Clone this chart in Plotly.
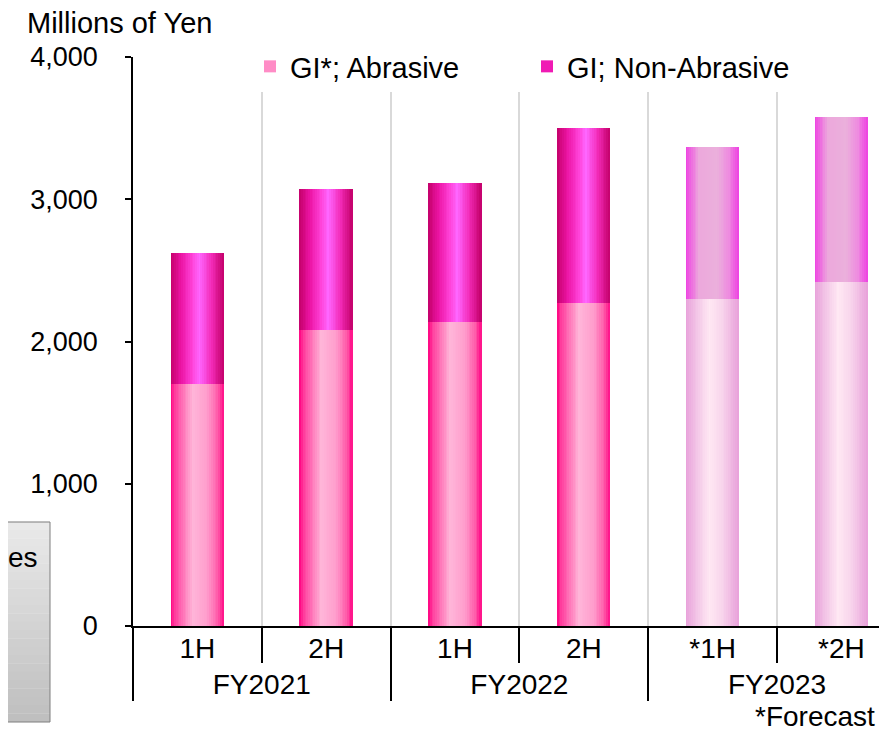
import plotly.graph_objects as go

# ---------------- data ----------------
fiscal_years = ["FY2021", "FY2021", "FY2022", "FY2022", "FY2023", "FY2023"]
halves = ["1H", "2H", "1H", "2H", "*1H", "*2H"]
abrasive = [1700, 2080, 2140, 2270, 2300, 2420]
non_abrasive = [920, 990, 975, 1230, 1065, 1160]
is_forecast = [False, False, False, False, True, True]
y_ticks = [0, 1000, 2000, 3000, 4000]

# ---------------- styling ----------------
OFF = 8                      # default page body margin
PW, PH = 887, 731            # page size
W, H = PW - OFF, PH - OFF    # figure size
# plot area in page pixels
P_L, P_R, P_T, P_B = 133, 887, 57, 626
L, R, T, B = P_L - OFF, PW - P_R, P_T - OFF, PH - P_B
FONT = "Arial, Liberation Sans, sans-serif"

def hex2rgb(h):
    h = h.lstrip("#")
    return tuple(int(h[i:i + 2], 16) for i in (0, 2, 4))

def grad(stops, t):
    for (p0, c0), (p1, c1) in zip(stops[:-1], stops[1:]):
        if p0 <= t <= p1:
            f = (t - p0) / (p1 - p0) if p1 > p0 else 0
            a, b = hex2rgb(c0), hex2rgb(c1)
            return "rgb(%d,%d,%d)" % tuple(round(a[k] + (b[k] - a[k]) * f) for k in range(3))
    return stops[-1][1]

abr_actual = [(0, "#ff0080"), (0.08, "#ff3c9c"), (0.42, "#ffb6d9"), (0.7, "#ff9ccc"), (0.9, "#ff58a8"), (1, "#ff0a86")]
non_actual = [(0, "#c4006a"), (0.2, "#ec14a4"), (0.42, "#ff44da"), (0.55, "#ff66ff"), (0.78, "#f22ab6"), (1, "#c4006a")]
abr_fc = [(0, "#e8a0da"), (0.2, "#f2c4e6"), (0.45, "#ffe8f3"), (0.7, "#f8d4ec"), (1, "#e8a0da")]
non_fc = [(0, "#ee40e2"), (0.25, "#eca8dc"), (0.6, "#ebb0dc"), (0.82, "#ee8ae0"), (1, "#ee40e2")]

N = 30
BW = 0.41
x = [fiscal_years, halves]

fig = go.Figure()
for series, base, st_a, st_f in [(abrasive, [0] * 6, abr_actual, abr_fc),
                                 (non_abrasive, abrasive, non_actual, non_fc)]:
    for i in range(N):
        t = (i + 0.5) / N
        colors = [grad(st_f if fc else st_a, t) for fc in is_forecast]
        fig.add_trace(go.Bar(
            x=x, y=series, base=base,
            offset=-BW / 2 + i * BW / N, width=BW / N * 1.06,
            marker=dict(color=colors, line=dict(width=0)),
            showlegend=False, hoverinfo="skip"))

# legend entries
fig.add_trace(go.Bar(x=x, y=[0] * 6, name="GI*; Abrasive",
                     marker=dict(color="#ff8cc6", line=dict(width=0))))
fig.add_trace(go.Bar(x=x, y=[0] * 6, name="GI; Non-Abrasive",
                     marker=dict(color="#f01ab4", line=dict(width=0))))

# page pixel -> paper coords
def px(xp):
    return (xp - P_L) / (P_R - P_L)

def py(yp):
    return (P_B - yp) / (P_B - P_T)

shapes = []
# gray gradient box at left (cropped element)
nb = 24
y0b, y1b = 522, 722
for k in range(nb):
    ya = y0b + (y1b - y0b) * k / nb
    yb = y0b + (y1b - y0b) * (k + 1) / nb
    g = round(234 - (234 - 190) * (k + 0.5) / nb)
    shapes.append(dict(type="rect", xref="paper", yref="paper",
                       x0=px(-2), x1=px(50), y0=py(yb), y1=py(ya) + 0.0005,
                       fillcolor="rgb(%d,%d,%d)" % (g, g, g), line=dict(width=0), layer="above"))
shapes.append(dict(type="rect", xref="paper", yref="paper",
                   x0=px(-2), x1=px(50), y0=py(y1b), y1=py(y0b),
                   fillcolor="rgba(0,0,0,0)", line=dict(color="#7f7f7f", width=1), layer="above"))

annotations = [
    dict(text="Millions of Yen", xref="paper", yref="paper", x=px(25), y=py(23),
         xanchor="left", yanchor="middle", showarrow=False, font=dict(size=29, color="black", family=FONT)),
    dict(text="*Forecast", xref="paper", yref="paper", x=px(877), y=py(716),
         xanchor="right", yanchor="middle", showarrow=False, font=dict(size=28, color="black", family=FONT)),
    dict(text="es", xref="paper", yref="paper", x=px(6), y=py(557),
         xanchor="left", yanchor="middle", showarrow=False, font=dict(size=28, color="black", family=FONT)),
]

fig.update_layout(
    width=W, height=H,
    margin=dict(l=L, r=R, t=T, b=B, autoexpand=False),
    paper_bgcolor="white", plot_bgcolor="white",
    barmode="overlay", bargap=0,
    font=dict(family=FONT, size=27, color="black"),
    showlegend=True,
    legend=dict(orientation="h", xref="container", yref="container",
                x=242 / W, y=1 - 33 / H, xanchor="left", yanchor="top",
                bgcolor="white", font=dict(size=29, family=FONT), traceorder="normal",
                itemwidth=30, entrywidth=232, tracegroupgap=0),
    shapes=shapes, annotations=annotations,
    xaxis=dict(type="multicategory", range=[-0.5, 5.354], automargin=False,
               showline=True, linecolor="black", linewidth=1.5,
               ticks="outside", ticklen=35, tickwidth=1.5, tickcolor="black",
               tickson="boundaries", showdividers=True, dividercolor="black", dividerwidth=1.5,
               showgrid=True, gridcolor="#d9d9d9", gridwidth=1.5, ticklabelstandoff=-3,
               tickfont=dict(size=28, family=FONT), fixedrange=True),
    yaxis=dict(range=[0, 4000], tickvals=y_ticks, tickformat=",", automargin=False,
               showline=True, linecolor="black", linewidth=1.5,
               ticks="outside", ticklen=6, tickwidth=1.5, tickcolor="black",
               showgrid=False, zeroline=False, ticklabelstandoff=22,
               tickfont=dict(size=27, family=FONT), fixedrange=True),
)

fig.write_html("out.html")
